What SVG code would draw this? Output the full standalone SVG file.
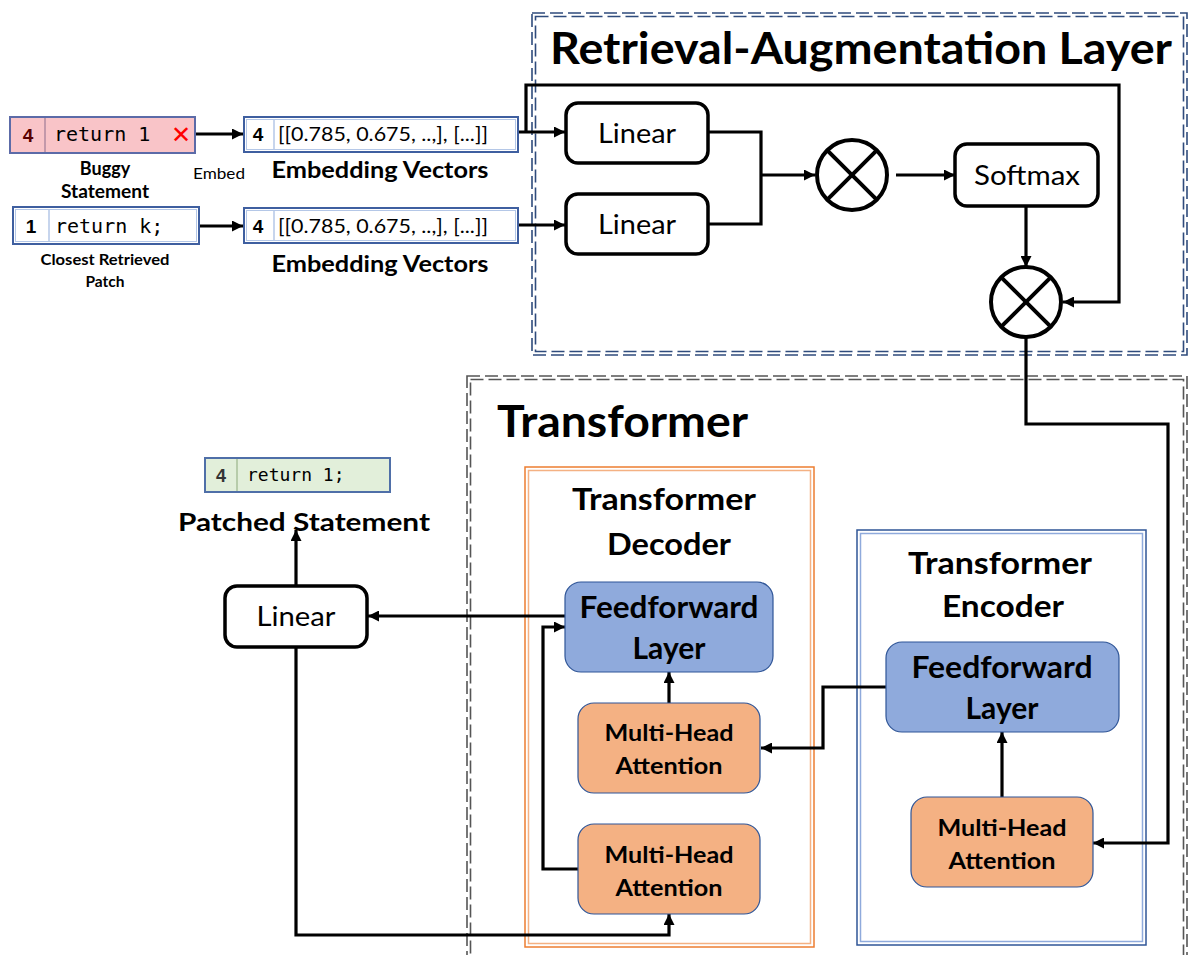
<svg xmlns="http://www.w3.org/2000/svg" width="1190" height="955" viewBox="0 0 1190 955">
  <defs>
    <marker id="arrow" viewBox="0 0 10 10" refX="10" refY="5" markerWidth="11" markerHeight="11" markerUnits="userSpaceOnUse" orient="auto">
      <path d="M0,0 L10,5 L0,10 z" fill="#000"/>
    </marker>
    <style>
      .t { font-family: Lato, "Liberation Sans", sans-serif; fill: #000; }
      .b { font-weight: bold; }
      .num { font-family: "Liberation Sans", sans-serif; font-weight: bold; }
      .mono { font-family: "DejaVu Sans Mono", "Liberation Mono", monospace; fill: #000; }
      .lin { fill: #fff; stroke: #000; stroke-width: 3.5; }
      .ff { fill: #8FAADC; stroke: #2F5597; stroke-width: 1.2; }
      .mha { fill: #F4B183; stroke: #2F5597; stroke-width: 1.2; }
      .wire { fill: none; stroke: #000; stroke-width: 3.2; }
      .arr { fill: none; stroke: #000; stroke-width: 3.2; marker-end: url(#arrow); }
      .dash-navy { fill: none; stroke: #2F4B7C; stroke-width: 1.6; stroke-dasharray: 13 5; }
      .dash-grey { fill: none; stroke: #555; stroke-width: 1.6; stroke-dasharray: 13 5; }
      .emb { fill: #fff; stroke: #3F5FA0; stroke-width: 2; }
      .emb-in { fill: none; stroke: #B4C7E7; stroke-width: 1; }
      .circ { fill: #fff; stroke: #000; stroke-width: 4; }
    </style>
  </defs>

  <!-- Retrieval-Augmentation container (double dashed) -->
  <g id="ra-layer">
    <rect class="dash-navy" x="532" y="13" width="655" height="342"/>
    <rect class="dash-navy" x="535.5" y="16.5" width="648" height="335"/>
    <text class="t b" x="550" y="64" font-size="44" textLength="622" lengthAdjust="spacingAndGlyphs">Retrieval-Augmentation Layer</text>
  </g>

  <!-- Transformer container (double dashed) -->
  <g id="transformer">
    <rect class="dash-grey" x="467" y="376" width="720" height="600"/>
    <rect class="dash-grey" x="470.5" y="379.5" width="713" height="600"/>
    <text class="t b" x="497" y="437" font-size="44" textLength="251" lengthAdjust="spacingAndGlyphs">Transformer</text>
  </g>

  <!-- Decoder container -->
  <g id="decoder">
    <rect x="525" y="467" width="289" height="480" fill="none" stroke="#ED7D31" stroke-width="1.5"/>
    <rect x="528.5" y="470.5" width="282" height="473" fill="none" stroke="#F4B183" stroke-width="1.5"/>
    <text class="t b" x="664" y="510" font-size="30" text-anchor="middle" textLength="184" lengthAdjust="spacingAndGlyphs">Transformer</text>
    <text class="t b" x="669" y="555" font-size="30" text-anchor="middle" textLength="124" lengthAdjust="spacingAndGlyphs">Decoder</text>
  </g>

  <!-- Encoder container -->
  <g id="encoder">
    <rect x="857" y="530" width="289" height="415" fill="none" stroke="#2F5597" stroke-width="1.5"/>
    <rect x="860.5" y="533.5" width="282" height="408" fill="none" stroke="#8FAADC" stroke-width="1.5"/>
    <text class="t b" x="1000" y="574" font-size="30" text-anchor="middle" textLength="184" lengthAdjust="spacingAndGlyphs">Transformer</text>
    <text class="t b" x="1003" y="617" font-size="30" text-anchor="middle" textLength="122" lengthAdjust="spacingAndGlyphs">Encoder</text>
  </g>

  <!-- Connectors -->
  <g id="connectors">
    <line class="arr" x1="195" y1="134" x2="243" y2="134"/>
    <line class="arr" x1="199" y1="226" x2="243" y2="226"/>
    <line class="arr" x1="518" y1="132" x2="565" y2="132"/>
    <line class="arr" x1="518" y1="225" x2="565" y2="225"/>
    <polyline class="arr" points="526,132 526,85 1119,85 1119,302 1063,302"/>
    <polyline class="wire" points="709,132 761,132 761,224 709,224"/>
    <line class="arr" x1="761" y1="175" x2="815" y2="175"/>
    <line class="arr" x1="896" y1="175" x2="955" y2="175"/>
    <line class="arr" x1="1026" y1="206" x2="1026" y2="267"/>
    <polyline class="arr" points="1026,338 1026,424 1168,424 1168,843 1093,843"/>
    <line class="arr" x1="1002" y1="797" x2="1002" y2="732"/>
    <polyline class="arr" points="886,687 823,687 823,748 761,748"/>
    <line class="arr" x1="669" y1="703" x2="669" y2="672"/>
    <polyline class="arr" points="578,869 543,869 543,627 565,627"/>
    <line class="arr" x1="565" y1="616" x2="368" y2="616"/>
    <line class="arr" x1="296" y1="585" x2="296" y2="530"/>
    <polyline class="arr" points="296,647 296,935 669,935 669,914"/>
  </g>

  <!-- Buggy statement -->
  <g id="buggy-statement">
    <rect x="10" y="117" width="185" height="36" fill="#F9C4C8" stroke="#5C6BA8" stroke-width="2"/>
    <line x1="45" y1="118" x2="45" y2="152" stroke="#B08AA0" stroke-width="1.5"/>
    <text class="num" x="28" y="142" font-size="19" text-anchor="middle" fill="#5A0000">4</text>
    <text class="mono" x="54" y="141" font-size="20">return 1</text>
    <text x="181" y="143" font-size="24" text-anchor="middle" font-family="DejaVu Sans, sans-serif" fill="#FF0000">✕</text>
    <text class="t b" x="105" y="175" font-size="18" text-anchor="middle">Buggy</text>
    <text class="t b" x="105" y="198" font-size="18" text-anchor="middle" textLength="88" lengthAdjust="spacingAndGlyphs">Statement</text>
  </g>

  <text id="embed-label" class="t" x="193" y="179" font-size="15" textLength="52" lengthAdjust="spacingAndGlyphs">Embed</text>

  <!-- Closest retrieved patch -->
  <g id="retrieved-patch">
    <rect x="13" y="207" width="186" height="37" fill="#fff" stroke="#3F5FA0" stroke-width="2"/>
    <rect x="15.5" y="209.5" width="181" height="32" fill="none" stroke="#B4C7E7" stroke-width="1"/>
    <line x1="49" y1="209" x2="49" y2="242" stroke="#B4C7E7" stroke-width="1.5"/>
    <text class="num" x="31" y="233" font-size="19" text-anchor="middle">1</text>
    <text class="mono" x="55" y="233" font-size="20">return k;</text>
    <text class="t b" x="105" y="265" font-size="15.5" text-anchor="middle" textLength="129" lengthAdjust="spacingAndGlyphs">Closest Retrieved</text>
    <text class="t b" x="105" y="287" font-size="15.5" text-anchor="middle">Patch</text>
  </g>

  <!-- Embedding vectors -->
  <g id="embedding-1">
    <rect class="emb" x="244" y="117" width="274" height="35"/>
    <rect class="emb-in" x="246.5" y="119.5" width="269" height="30"/>
    <line x1="274" y1="119" x2="274" y2="150" stroke="#B4C7E7" stroke-width="1.5"/>
    <text class="num" x="258" y="141" font-size="19" text-anchor="middle">4</text>
    <text class="t" x="278" y="141" font-size="20" textLength="210" lengthAdjust="spacingAndGlyphs">[[0.785, 0.675, ..,], [...]]</text>
    <text class="t b" x="380" y="178" font-size="23" text-anchor="middle" textLength="217" lengthAdjust="spacingAndGlyphs">Embedding Vectors</text>
  </g>
  <g id="embedding-2">
    <rect class="emb" x="244" y="208" width="274" height="35"/>
    <rect class="emb-in" x="246.5" y="210.5" width="269" height="30"/>
    <line x1="274" y1="210" x2="274" y2="241" stroke="#B4C7E7" stroke-width="1.5"/>
    <text class="num" x="258" y="233" font-size="19" text-anchor="middle">4</text>
    <text class="t" x="278" y="233" font-size="20" textLength="210" lengthAdjust="spacingAndGlyphs">[[0.785, 0.675, ..,], [...]]</text>
    <text class="t b" x="380" y="272" font-size="23" text-anchor="middle" textLength="217" lengthAdjust="spacingAndGlyphs">Embedding Vectors</text>
  </g>

  <!-- Retrieval-augmentation blocks -->
  <g id="linear-q">
    <rect class="lin" x="566" y="103" width="142" height="60" rx="12"/>
    <text class="t" x="637" y="143" font-size="26" text-anchor="middle" textLength="78" lengthAdjust="spacingAndGlyphs">Linear</text>
  </g>
  <g id="linear-k">
    <rect class="lin" x="566" y="194" width="142" height="60" rx="12"/>
    <text class="t" x="637" y="234" font-size="26" text-anchor="middle" textLength="78" lengthAdjust="spacingAndGlyphs">Linear</text>
  </g>
  <g id="multiply-1">
    <ellipse class="circ" cx="852" cy="175" rx="35" ry="35"/>
    <line x1="827.3" y1="150.3" x2="876.7" y2="199.7" stroke="#000" stroke-width="4"/>
    <line x1="876.7" y1="150.3" x2="827.3" y2="199.7" stroke="#000" stroke-width="4"/>
  </g>
  <g id="softmax">
    <rect class="lin" x="955" y="144" width="143" height="62" rx="12"/>
    <text class="t" x="1027" y="185" font-size="26" text-anchor="middle" textLength="106" lengthAdjust="spacingAndGlyphs">Softmax</text>
  </g>
  <g id="multiply-2">
    <ellipse class="circ" cx="1026" cy="302" rx="35" ry="35"/>
    <line x1="1001.3" y1="277.3" x2="1050.7" y2="326.7" stroke="#000" stroke-width="4"/>
    <line x1="1050.7" y1="277.3" x2="1001.3" y2="326.7" stroke="#000" stroke-width="4"/>
  </g>

  <!-- Decoder blocks -->
  <g id="dec-feedforward">
    <rect class="ff" x="565" y="582" width="208" height="90" rx="16"/>
    <text class="t b" x="669" y="618" font-size="30" text-anchor="middle" textLength="179" lengthAdjust="spacingAndGlyphs">Feedforward</text>
    <text class="t b" x="669" y="659" font-size="30" text-anchor="middle">Layer</text>
  </g>
  <g id="dec-attention-1">
    <rect class="mha" x="578" y="703" width="182" height="90" rx="16"/>
    <text class="t b" x="669" y="741" font-size="23" text-anchor="middle" textLength="129" lengthAdjust="spacingAndGlyphs">Multi-Head</text>
    <text class="t b" x="669" y="774" font-size="23" text-anchor="middle" textLength="107" lengthAdjust="spacingAndGlyphs">Attention</text>
  </g>
  <g id="dec-attention-2">
    <rect class="mha" x="578" y="824" width="182" height="90" rx="16"/>
    <text class="t b" x="669" y="863" font-size="23" text-anchor="middle" textLength="129" lengthAdjust="spacingAndGlyphs">Multi-Head</text>
    <text class="t b" x="669" y="896" font-size="23" text-anchor="middle" textLength="107" lengthAdjust="spacingAndGlyphs">Attention</text>
  </g>

  <!-- Encoder blocks -->
  <g id="enc-feedforward">
    <rect class="ff" x="886" y="642" width="233" height="90" rx="16"/>
    <text class="t b" x="1002" y="678" font-size="30" text-anchor="middle" textLength="181" lengthAdjust="spacingAndGlyphs">Feedforward</text>
    <text class="t b" x="1002" y="719" font-size="30" text-anchor="middle">Layer</text>
  </g>
  <g id="enc-attention">
    <rect class="mha" x="911" y="797" width="182" height="90" rx="16"/>
    <text class="t b" x="1002" y="836" font-size="23" text-anchor="middle" textLength="129" lengthAdjust="spacingAndGlyphs">Multi-Head</text>
    <text class="t b" x="1002" y="869" font-size="23" text-anchor="middle" textLength="107" lengthAdjust="spacingAndGlyphs">Attention</text>
  </g>

  <!-- Output projection and patched statement -->
  <g id="linear-out">
    <rect class="lin" x="225" y="586" width="142" height="61" rx="12"/>
    <text class="t" x="296" y="626" font-size="26" text-anchor="middle" textLength="79" lengthAdjust="spacingAndGlyphs">Linear</text>
  </g>
  <g id="patched-statement">
    <rect x="205" y="458" width="185" height="34" fill="#E2EFDA" stroke="#4F6FA8" stroke-width="2"/>
    <line x1="237" y1="459" x2="237" y2="491" stroke="#A9C09A" stroke-width="1.5"/>
    <text class="num" x="221" y="482" font-size="18" text-anchor="middle" fill="#333">4</text>
    <text class="mono" x="247" y="481" font-size="18">return 1;</text>
    <text class="t b" x="304" y="531" font-size="25" text-anchor="middle" textLength="252" lengthAdjust="spacingAndGlyphs">Patched Statement</text>
  </g>
</svg>
